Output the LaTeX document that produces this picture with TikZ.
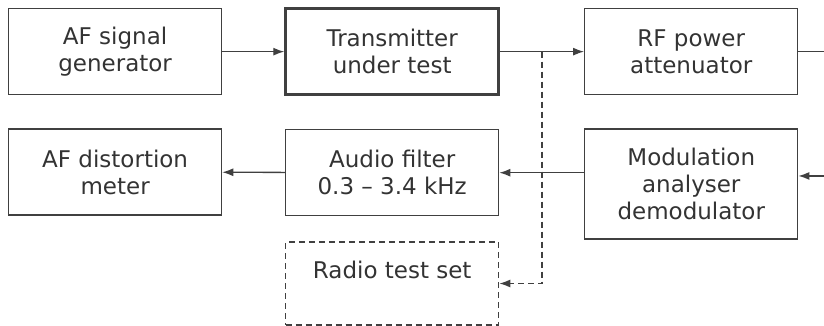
\documentclass[tikz,border=0pt]{standalone}
\usepackage{fontspec}
\setmainfont{DejaVu Sans}
\usetikzlibrary{positioning,arrows.meta,calc}

\begin{document}
\begin{tikzpicture}[x=1pt, y=1pt, node distance={33pt},
	block/.style = {draw=black!75, line width=1.3pt, text=black!80, minimum width=213pt, minimum height=86pt, align=center, inner sep=2pt, font=\fontsize{23}{27}\selectfont},
	link/.style = {draw=black!75, line width=1.3pt, -{Latex[length=11pt,width=8pt]}}]
	\useasboundingbox (0,0) rectangle (824,-326);
	\node[block, anchor=north west] (gen) at (8,-8) {AF signal\\generator};
	\node[block, line width=2.8pt] [right=62pt of gen] (tx) {Transmitter\\under test};
	\node[block] [right=84pt of tx] (att) {RF power\\attenuator};
	\node[block] [below=of gen] (dist) {AF distortion\\meter};
	\node[block] [below=of tx] (filt) {Audio filter\\0.3 -- 3.4 kHz};
	\node[block, minimum height=110pt] [below=of att] (mod) {Modulation\\analyser\\demodulator};
	\node[block, dashed, dash pattern=on 6pt off 4pt, minimum height=83pt] [below=25pt of filt] (radio) {Radio test set\\\mbox{}};
	\coordinate[right=31pt of att.east] (rfout);
	\coordinate[right=31pt of mod.east, yshift=8pt] (rfin);
	\coordinate (tap) at ($(tx.east)!0.5!(att.west)$);
	\draw[link] (gen) -- (tx);
	\draw[link] (tx) -- (att);
	\draw[link, -] (att) -- (rfout);
	\draw[link] (rfin) -- (rfin -| mod.east);
	\draw[link] (mod.west |- filt.east) -- (filt);
	\draw[link] (filt) -- (dist);
	\draw[link, dash pattern=on 6pt off 4pt] (tap) |- (radio.east);
\end{tikzpicture}
\end{document}
